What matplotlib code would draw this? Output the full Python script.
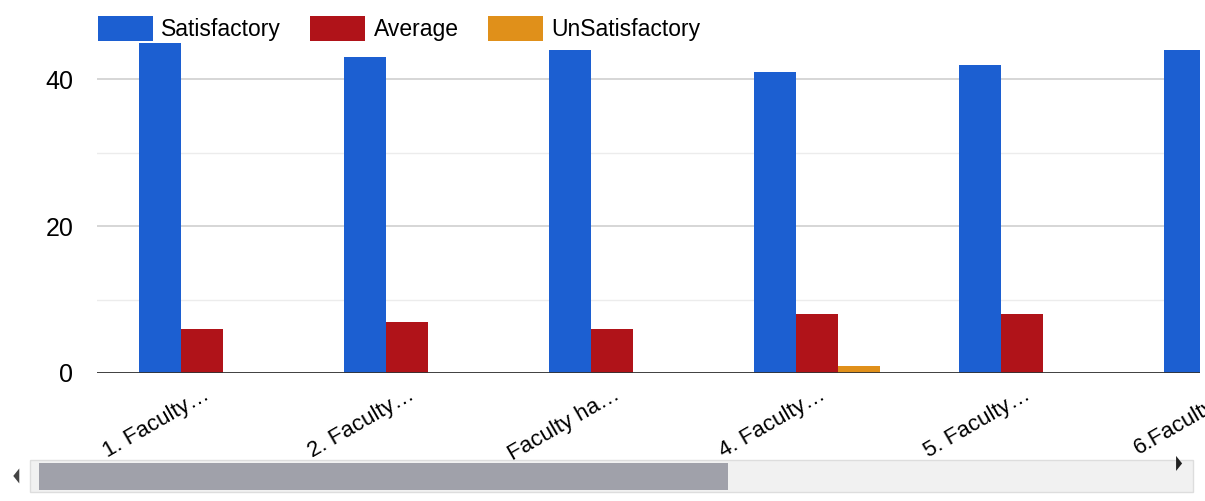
import numpy as np
import matplotlib.pyplot as plt
from matplotlib.patches import Rectangle, Polygon

plt.rcParams["font.family"] = ["Liberation Sans", "DejaVu Sans"]

labels = ["1. Faculty\u2026", "2. Faculty\u2026", "Faculty ha\u2026", "4. Faculty\u2026", "5. Faculty\u2026", "6.Faculty\u2026"]
satisfactory = [45, 43, 44, 41, 42, 44]
average = [6, 7, 6, 8, 8, np.nan]
unsatisfactory = [0, 0, 0, 1, 0, np.nan]

blue = "#1c5fd1"
red = "#b01319"
orange = "#e0901a"

fig = plt.figure(figsize=(12.05, 5.01), dpi=100)
ax = fig.add_axes([0.0805, 0.2555, 0.9155, 0.7325])

x = np.arange(len(labels))
w = 0.205
ax.bar(x - w, satisfactory, w, color=blue, label="Satisfactory")
ax.bar(x, average, w, color=red, label="Average")
ax.bar(x + w, unsatisfactory, w, color=orange, label="UnSatisfactory")

ax.set_yticks([0, 20, 40])
ax.set_yticks([10, 30], minor=True)
ax.set_xticks([])
# chart is scrolled: the sixth group is cut off at the right edge
ax.set_xlim(-0.51, 4.87)
ax.set_ylim(0, 50)

# category labels drawn by hand so the clipped sixth one still shows
for xi, lab in zip(x, labels):
    ax.annotate(lab, xy=(xi, 0), xycoords=("data", "axes fraction"),
                xytext=(1, -8), textcoords="offset points", rotation=30,
                ha="right", va="top", rotation_mode="anchor", fontsize=16,
                annotation_clip=False)

ax.grid(True, axis="y", which="major", color="#d0d0d0", linewidth=1.2)
ax.grid(True, axis="y", which="minor", color="#ececec", linewidth=1)
ax.set_axisbelow(True)
ax.axhline(0, color="#333333", linewidth=2)
for s in ax.spines.values():
    s.set_visible(False)
ax.tick_params(axis="both", which="both", length=0)
ax.tick_params(axis="y", labelsize=18, pad=17)

fig.legend(loc="upper left", bbox_to_anchor=(0.064, 1.009), ncol=3, frameon=False,
           fontsize=16.5, handlelength=2.4, handleheight=1.3, columnspacing=1.3,
           handletextpad=0.35)

# scrollbar decoration
fig.patches.append(Rectangle((0.025, 0.018), 0.965, 0.064, transform=fig.transFigure,
                             facecolor="#f1f1f1", edgecolor="#dddddd", zorder=-2))
fig.patches.append(Rectangle((0.032, 0.022), 0.572, 0.054, transform=fig.transFigure,
                             facecolor="#a0a1aa", edgecolor="none", zorder=-1))
fig.patches.append(Polygon([(0.016, 0.035), (0.016, 0.065), (0.011, 0.05)], closed=True,
                           transform=fig.transFigure, facecolor="#444444", zorder=-1))
fig.patches.append(Polygon([(0.976, 0.06), (0.976, 0.09), (0.981, 0.075)], closed=True,
                           transform=fig.transFigure, facecolor="#222222", zorder=-1))

fig.savefig("out.png", dpi=100)
